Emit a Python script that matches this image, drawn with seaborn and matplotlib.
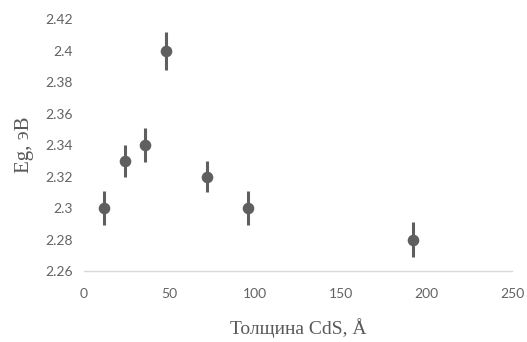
import numpy as np
import pandas as pd
import matplotlib
matplotlib.use("Agg")
import matplotlib.pyplot as plt
import seaborn as sns

# data
thickness = [12, 24, 36, 48, 72, 96, 192]
eg = [2.30, 2.33, 2.34, 2.40, 2.32, 2.30, 2.28]
eg_err = [0.011, 0.010, 0.011, 0.012, 0.010, 0.011, 0.011]
xticks = [0, 50, 100, 150, 200, 250]
yticks = [2.26, 2.28, 2.30, 2.32, 2.34, 2.36, 2.38, 2.40, 2.42]
ytick_labels = ["2.26", "2.28", "2.3", "2.32", "2.34", "2.36", "2.38", "2.4", "2.42"]

df = pd.DataFrame({"x": thickness, "y": eg, "err": eg_err})

sns.set_theme(style="white")
plt.rcParams['font.family'] = ['Lato', 'DejaVu Sans']

grey = "#5f5f5f"
fig = plt.figure(figsize=(5.27, 3.42), dpi=100)
ax = fig.add_axes([0.159, 0.2076, 0.813, 0.7364])

ax.errorbar(df["x"], df["y"], yerr=df["err"], fmt="none", ecolor=grey, elinewidth=2.2, capsize=0, zorder=2)
sns.scatterplot(data=df, x="x", y="y", ax=ax, color=grey, s=70, edgecolor=grey, linewidth=0, zorder=3)

ax.set_xlim(0, 250)
ax.set_ylim(2.26, 2.42)
ax.set_xticks(xticks)
ax.set_yticks(yticks)
ax.set_yticklabels(ytick_labels)
ax.tick_params(axis="both", colors="#636363", labelsize=10, length=0, pad=12)
ax.tick_params(axis="y", pad=8)

for s in ["top", "right", "left"]:
    ax.spines[s].set_visible(False)
ax.spines["bottom"].set_color("#d9d9d9")
ax.spines["bottom"].set_linewidth(1)

ax.set_xlabel("Толщина CdS, Å", family=["Liberation Serif", "DejaVu Serif"], fontsize=14, color="#595959", labelpad=13)
ax.set_ylabel("Eg, эВ", family=["Liberation Serif", "DejaVu Serif"], fontsize=15, color="#595959", labelpad=8)

fig.savefig("out.png", dpi=100)
